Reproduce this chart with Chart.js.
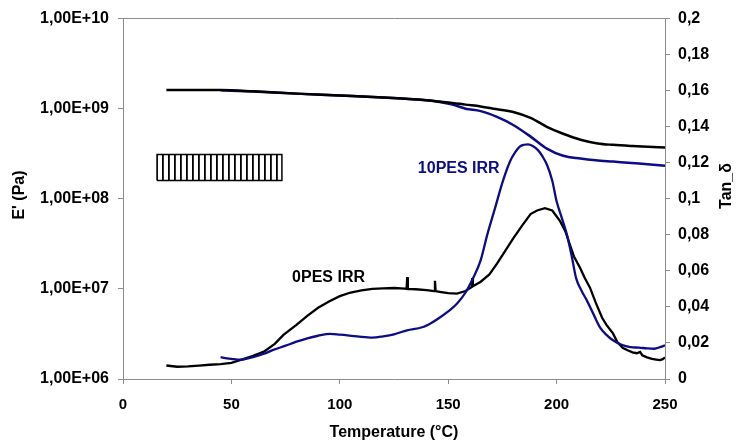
<!DOCTYPE html>
<html>
<head>
<meta charset="utf-8">
<script src="https://cdn.jsdelivr.net/npm/chart.js@4/dist/chart.umd.min.js"></script>
<style>
html,body{margin:0;padding:0;background:#fff;}
canvas{display:block;}
</style>
</head>
<body>
<canvas id="c" width="736" height="445"></canvas>
<script>
// ---- data ----
const xTicks = [0, 50, 100, 150, 200, 250];
const eTicks = [1e6, 1e7, 1e8, 1e9, 1e10];
const tanTicks = [0, 0.02, 0.04, 0.06, 0.08, 0.1, 0.12, 0.14, 0.16, 0.18, 0.2];

// E' 0PES IRR (black)
const e0X = [20, 30, 45, 60, 80, 100, 120, 140, 146, 152, 158, 165, 172, 180, 188, 195.5, 203, 211, 219, 226, 235, 242, 250];
const e0Y = [1.61e9, 1.61e9, 1.61e9, 1.56e9, 1.47e9, 1.40e9, 1.33e9, 1.24e9, 1.20e9, 1.16e9, 1.11e9, 1.06e9, 0.99e9, 9.2e8, 7.9e8, 6.3e8, 5.27e8, 4.53e8, 4.12e8, 3.97e8, 3.85e8, 3.78e8, 3.70e8];

// E' 10PES IRR (blue)
const e10X = [45, 60, 80, 100, 120, 140, 146, 152, 158, 165, 172.5, 180, 188, 195.5, 203, 211, 218, 226, 238, 250];
const e10Y = [1.60e9, 1.55e9, 1.47e9, 1.40e9, 1.33e9, 1.24e9, 1.19e9, 1.11e9, 1.0e9, 9.4e8, 8.1e8, 6.6e8, 4.9e8, 3.6e8, 3.0e8, 2.8e8, 2.68e8, 2.59e8, 2.46e8, 2.33e8];

// tan delta 0PES IRR (black)
const t0X = [20, 25, 30, 35, 40, 45, 50, 54, 60, 65, 70, 74, 80, 85, 90, 95, 100, 105, 110, 115, 120, 125, 130, 130.8, 131.1, 131.4, 135, 140, 143.6, 143.9, 144.2, 146, 150, 154, 158, 160.8, 161.1, 161.4, 165, 169, 172.5, 176, 180, 184, 188, 191, 194.6, 198, 201.6, 204, 206, 208, 210.8, 213, 215.4, 218, 221, 223, 226, 228, 230.6, 233, 235, 237, 238.5, 239.5, 241.7, 244, 246, 247.7, 249, 250];
const t0Y = [0.0075, 0.0068, 0.0070, 0.0074, 0.0079, 0.0083, 0.0090, 0.0105, 0.0128, 0.0152, 0.0195, 0.0245, 0.0300, 0.0350, 0.0395, 0.0430, 0.0460, 0.0480, 0.0492, 0.0500, 0.0503, 0.0505, 0.0502, 0.0500, 0.0565, 0.0500, 0.0498, 0.0493, 0.0488, 0.0545, 0.0488, 0.0484, 0.0476, 0.0474, 0.0488, 0.0510, 0.0560, 0.0515, 0.0540, 0.0580, 0.0640, 0.0705, 0.0780, 0.0850, 0.0915, 0.0935, 0.0948, 0.0935, 0.0876, 0.0820, 0.0750, 0.0680, 0.0617, 0.0560, 0.0507, 0.0425, 0.0340, 0.0300, 0.0253, 0.0205, 0.0172, 0.0158, 0.0148, 0.0143, 0.0150, 0.0132, 0.0120, 0.0112, 0.0108, 0.0105, 0.0110, 0.0120];

// tan delta 10PES IRR (blue)
const t10X = [45, 48, 50, 54, 60, 65, 69, 75, 80, 85, 90, 95.5, 100, 108, 115, 120, 125, 131, 138, 142, 146, 150, 154, 158, 161.5, 165, 168, 171.6, 175, 178.5, 181, 183, 185, 186.8, 189, 191.4, 193.5, 195.5, 198, 200, 202.5, 204.8, 207, 209, 211.5, 214, 217, 220, 223, 226, 230, 234, 238, 241.7, 245, 248, 250];
const t10Y = [0.0121, 0.0115, 0.0112, 0.0107, 0.0122, 0.0140, 0.0160, 0.0185, 0.0207, 0.0226, 0.0240, 0.0250, 0.0246, 0.0237, 0.0230, 0.0237, 0.0248, 0.0270, 0.0287, 0.0310, 0.0340, 0.0375, 0.0418, 0.0480, 0.0560, 0.0660, 0.0800, 0.0948, 0.1090, 0.1207, 0.1260, 0.1290, 0.1300, 0.1302, 0.1293, 0.1270, 0.1235, 0.1190, 0.1100, 0.0986, 0.0890, 0.0800, 0.0680, 0.0560, 0.0490, 0.0435, 0.0360, 0.0287, 0.0245, 0.0215, 0.0190, 0.0177, 0.0174, 0.0170, 0.0168, 0.0178, 0.0187];

// hatched box (E' axis)
const boxX = [15.7, 73.3];
const boxY = [1.6e8, 3.1e8];

// series labels
const labelTexts = ['0PES IRR', '10PES IRR'];
const labelX = [78, 136];
const labelTan = [0.0562, 0.1168];

// ---- build ----
const NAVY = '#0c0c86';
const GRAY = '#8c8c8c';
const FONT = '"Liberation Sans", Arial, sans-serif';
const pts = (xs, ys) => xs.map((x, i) => ({x: x, y: ys[i]}));

function hatchPattern() {
  const c = document.createElement('canvas');
  c.width = 6; c.height = 6;
  const g = c.getContext('2d');
  g.fillStyle = '#fff';
  g.fillRect(0, 0, 6, 6);
  g.fillStyle = '#000';
  g.fillRect(0, 0, 1.8, 6);
  return g.createPattern(c, 'repeat');
}

const boxPts = [
  {x: boxX[0], y: boxY[0]}, {x: boxX[1], y: boxY[0]},
  {x: boxX[1], y: boxY[1]}, {x: boxX[0], y: boxY[1]}, {x: boxX[0], y: boxY[0]}
];

const textPlugin = {
  id: 'texts',
  afterDatasetsDraw(chart) {
    const ctx = chart.ctx;
    const xs = chart.scales.x, y1 = chart.scales.y1, ca = chart.chartArea;
    ctx.save();
    ctx.font = 'bold 16px ' + FONT;
    ctx.textBaseline = 'middle';
    ctx.textAlign = 'left';
    const cols = ['#000', NAVY];
    labelTexts.forEach((t, i) => {
      ctx.fillStyle = cols[i];
      ctx.fillText(t, xs.getPixelForValue(labelX[i]), y1.getPixelForValue(labelTan[i]));
    });
    // axis titles
    ctx.fillStyle = '#000';
    ctx.font = 'bold 16px ' + FONT;
    ctx.textAlign = 'center';
    ctx.fillText('Temperature (°C)', (ca.left + ca.right) / 2, 433);
    ctx.save();
    ctx.translate(20, 195);
    ctx.rotate(-Math.PI / 2);
    ctx.fillText("E' (Pa)", 0, 0);
    ctx.restore();
    ctx.save();
    ctx.translate(727, 186);
    ctx.rotate(-Math.PI / 2);
    ctx.fillText('Tan_δ', 0, 0);
    ctx.restore();
    ctx.restore();
  }
};

const lineBase = {pointRadius: 0, borderWidth: 2.5, fill: false, cubicInterpolationMode: 'monotone'};

new Chart(document.getElementById('c'), {
  type: 'line',
  data: {
    datasets: [
      Object.assign({}, lineBase, {label: "E' 0PES IRR", data: pts(e0X, e0Y), borderColor: '#000', yAxisID: 'y'}),
      Object.assign({}, lineBase, {label: "E' 10PES IRR", data: pts(e10X, e10Y), borderColor: NAVY, yAxisID: 'y'}),
      Object.assign({}, lineBase, {label: 'tan 10PES IRR', data: pts(t10X, t10Y), borderColor: NAVY, yAxisID: 'y1', borderWidth: 2.3}),
      Object.assign({}, lineBase, {label: 'tan 0PES IRR', data: pts(t0X, t0Y), borderColor: '#000', yAxisID: 'y1', borderWidth: 2.3, cubicInterpolationMode: 'default', tension: 0}),
      {label: 'box', data: boxPts, yAxisID: 'y', borderColor: '#000', borderWidth: 1.5, pointRadius: 0, tension: 0,
       fill: 'shape', backgroundColor: hatchPattern()}
    ]
  },
  options: {
    responsive: false,
    animation: false,
    layout: {padding: 0},
    plugins: {legend: {display: false}, tooltip: {enabled: false}},
    scales: {
      x: {
        type: 'linear', position: 'bottom', min: 0, max: 250,
        afterBuildTicks: s => { s.ticks = xTicks.map(v => ({value: v})); },
        afterFit: s => { s.height = 66; },
        grid: {drawOnChartArea: false, drawTicks: true, tickLength: 5, color: GRAY},
        border: {display: true, color: GRAY, width: 1},
        ticks: {color: '#000', font: {family: FONT, size: 15, weight: 'bold'}, padding: 12, maxRotation: 0}
      },
      x2: {
        type: 'linear', position: 'top', min: 0, max: 250,
        afterFit: s => { s.height = 16; },
        grid: {display: false},
        border: {display: true, color: GRAY, width: 1},
        ticks: {display: false}
      },
      y: {
        type: 'logarithmic', position: 'left', min: 1e6, max: 1e10,
        afterBuildTicks: s => { s.ticks = eTicks.map(v => ({value: v})); },
        afterFit: s => { s.width = 123; },
        grid: {drawOnChartArea: false, drawTicks: true, tickLength: 5, color: GRAY},
        border: {display: true, color: GRAY, width: 1},
        ticks: {
          color: '#000', font: {family: FONT, size: 16, weight: 'bold'}, padding: 9,
          callback: v => '1,00E+' + String(Math.round(Math.log10(v))).padStart(2, '0')
        }
      },
      y1: {
        type: 'linear', position: 'right', min: 0, max: 0.2,
        afterBuildTicks: s => { s.ticks = tanTicks.map(v => ({value: v})); },
        afterFit: s => { s.width = 71; },
        grid: {drawOnChartArea: false, drawTicks: true, tickLength: 5, color: GRAY},
        border: {display: true, color: GRAY, width: 1},
        ticks: {
          color: '#000', font: {family: FONT, size: 16, weight: 'bold'}, padding: 8,
          callback: v => String(parseFloat(Number(v).toFixed(2))).replace('.', ',')
        }
      }
    }
  },
  plugins: [textPlugin]
});
</script>
</body>
</html>
